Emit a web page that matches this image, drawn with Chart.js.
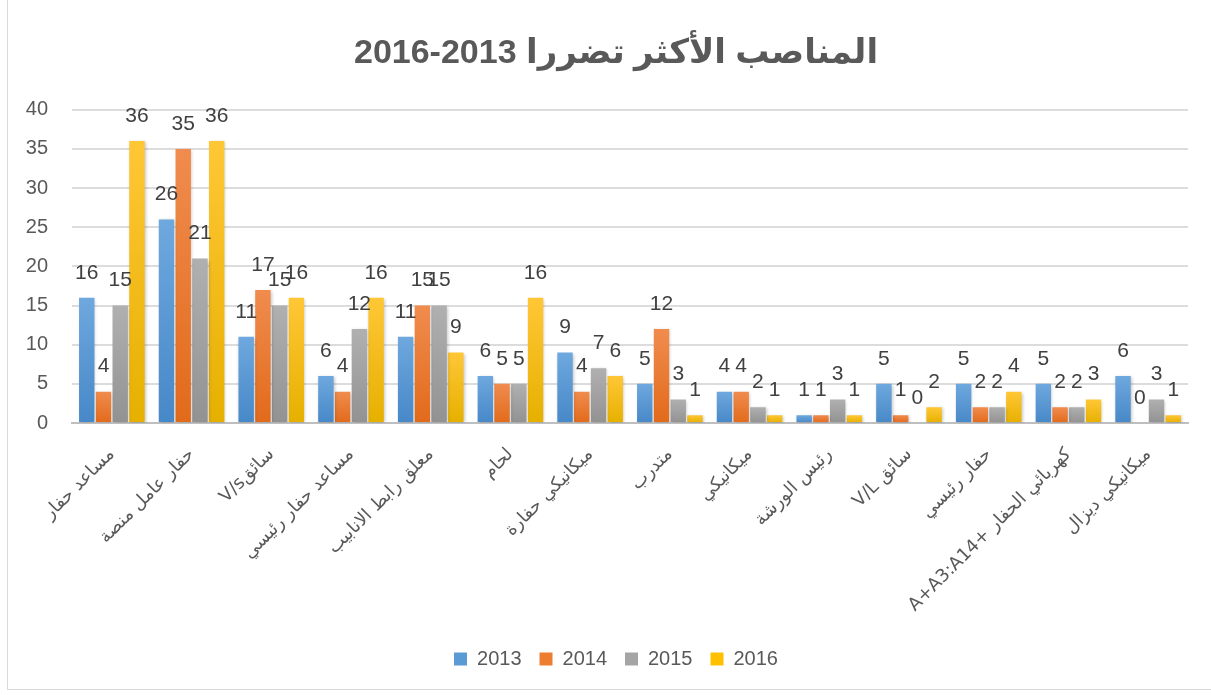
<!DOCTYPE html>
<html>
<head>
<meta charset="utf-8">
<script src="https://cdn.jsdelivr.net/npm/chart.js@4/dist/chart.umd.min.js"></script>
<style>
html,body{margin:0;padding:0;background:#fff;overflow:hidden;}
#wrap{position:relative;width:1211px;height:695px;overflow:hidden;}
#frame{position:absolute;left:7px;top:-5px;width:1220px;height:695px;border:1px solid #d9d9d9;box-sizing:border-box;}
canvas{position:absolute;left:0;top:0;}
</style>
</head>
<body>
<div id="wrap">
<div id="frame"></div>
<canvas id="chart" width="1232" height="695"></canvas>
</div>
<script>
/* data */
const categories = [
  "مساعد حفار",
  "حفار عامل منصة",
  "V/sسائق",
  "مساعد حفار رئيسي",
  "معلق رابط الانابيب",
  "لحام",
  "ميكانيكي حفارة",
  "متدرب",
  "ميكانيكي",
  "رئيس الورشة",
  "V/L سائق",
  "حفار رئيسي",
  "A+A3:A14+ كهربائي الحفار",
  "ميكانيكي ديزال"
];
const years = ["2013", "2014", "2015", "2016"];
const v2013 = [16, 26, 11, 6, 11, 6, 9, 5, 4, 1, 5, 5, 5, 6];
const v2014 = [4, 35, 17, 4, 15, 5, 4, 12, 4, 1, 1, 2, 2, 0];
const v2015 = [15, 21, 15, 12, 15, 5, 7, 3, 2, 3, 0, 2, 2, 3];
const v2016 = [36, 36, 16, 16, 9, 16, 6, 1, 1, 1, 2, 4, 3, 1];
const yTicks = [0, 5, 10, 15, 20, 25, 30, 35, 40];

/* colours: solid, top of gradient, bottom of gradient */
const solid = ["#5B9BD5", "#ED7D31", "#A5A5A5", "#FFC000"];
const tops = ["#6EA8DE", "#F08C4E", "#B0B0B0", "#FFC736"];
const bottoms = ["#4788C8", "#E26A1B", "#929292", "#E6B000"];

const FONT = "'Liberation Sans', 'DejaVu Sans', sans-serif";
const TXT = "#595959";

function barFill(i){
  return function(ctx){
    const chart = ctx.chart;
    const y = chart.scales && chart.scales.y;
    if(!y || ctx.type !== "data") return solid[i];
    const v = ctx.raw || 0;
    const top = y.getPixelForValue(v);
    const bot = y.getPixelForValue(0);
    if(bot - top < 1) return solid[i];
    const g = chart.ctx.createLinearGradient(0, top, 0, bot);
    g.addColorStop(0, tops[i]);
    g.addColorStop(1, bottoms[i]);
    return g;
  };
}

const series = [v2013, v2014, v2015, v2016];

/* labels above bars + soft shadow */
const barLabels = {
  id: "barLabels",
  beforeDatasetsDraw(chart){
    const c = chart.ctx;
    c.save();
    c.shadowColor = "rgba(0,0,0,0.22)";
    c.shadowBlur = 3;
    c.shadowOffsetX = 1;
    c.shadowOffsetY = 1;
  },
  afterDatasetsDraw(chart){
    const c = chart.ctx;
    c.restore();
    c.save();
    c.font = "21px " + FONT;
    c.fillStyle = "#404040";
    c.textAlign = "center";
    c.textBaseline = "middle";
    chart.data.datasets.forEach((ds, di) => {
      chart.getDatasetMeta(di).data.forEach((bar, i) => {
        c.fillText(String(ds.data[i]), bar.x, bar.y - 25);
      });
    });
    c.restore();
  }
};

new Chart(document.getElementById("chart"), {
  type: "bar",
  data: {
    labels: categories,
    datasets: years.map((yr, i) => ({
      label: yr,
      data: series[i],
      backgroundColor: barFill(i),
      borderWidth: 0,
      categoryPercentage: 0.84,
      barPercentage: 0.92
    }))
  },
  options: {
    responsive: false,
    animation: false,
    devicePixelRatio: 1,
    layout: { padding: { left: 0, right: 0, top: 0, bottom: 16 } },
    scales: {
      x: {
        grid: { display: false, drawTicks: false },
        border: { display: true, color: "#bfbfbf", width: 2 },
        ticks: {
          autoSkip: false,
          minRotation: 45,
          maxRotation: 45,
          padding: 21,
          color: TXT,
          font: { family: "'DejaVu Sans', sans-serif", size: 18 }
        },
        afterFit(scale){ scale.height = 208; }
      },
      y: {
        min: 0,
        max: 40,
        afterBuildTicks(scale){ scale.ticks = yTicks.map(v => ({ value: v })); },
        grid: { color: "#dcdcdc", lineWidth: 2, drawTicks: false },
        border: { display: false },
        ticks: {
          padding: 24,
          color: TXT,
          font: { family: FONT, size: 20 }
        },
        afterFit(scale){ scale.width = 72; }
      },
      /* empty right-hand spacer so the title and legend sit where they do in the original */
      spacer: {
        type: "linear",
        position: "right",
        display: true,
        grid: { display: false, drawTicks: false },
        border: { display: false },
        ticks: { display: false },
        afterFit(scale){ scale.width = 44; }
      }
    },
    plugins: {
      title: {
        display: true,
        text: "2016-2013 المناصب الأكثر تضررا",
        color: TXT,
        font: { family: FONT, size: 34, weight: "bold" },
        padding: { top: 33, bottom: 36 }
      },
      legend: {
        position: "bottom",
        labels: {
          boxWidth: 13,
          boxHeight: 13,
          padding: 18,
          color: TXT,
          font: { family: FONT, size: 20 },
          generateLabels(chart){
            return chart.data.datasets.map((ds, i) => ({
              text: ds.label,
              fillStyle: solid[i],
              strokeStyle: solid[i],
              lineWidth: 0,
              fontColor: TXT,
              datasetIndex: i,
              hidden: false
            }));
          }
        }
      },
      tooltip: { enabled: false }
    }
  },
  plugins: [barLabels]
});
</script>
</body>
</html>
